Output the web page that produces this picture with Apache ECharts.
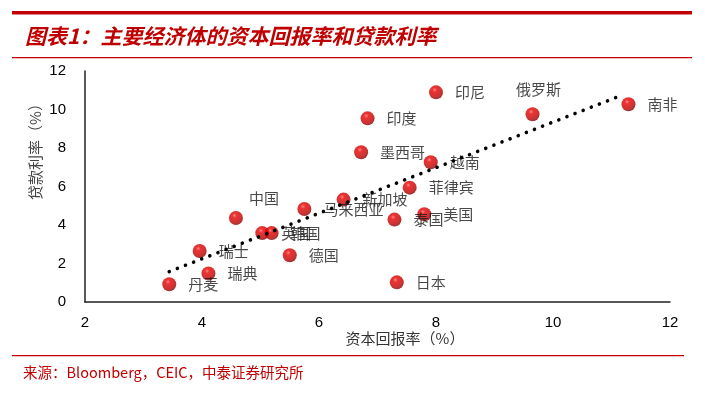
<!DOCTYPE html>
<html>
<head>
<meta charset="utf-8">
<script src="https://cdn.jsdelivr.net/npm/echarts@6/dist/echarts.min.js"></script>
<style>
html,body{margin:0;padding:0;background:#fff;}
#chart{width:705px;height:398px;}
</style>
</head>
<body>
<div id="chart"></div>
<script>
// ---- data ----
const countries = ['丹麦','瑞典','瑞士','中国','英国','韩国','德国','马来西亚','新加坡','墨西哥','印度','印尼','泰国','美国','菲律宾','越南','日本','俄罗斯','南非'];
const capitalReturn = [3.44,4.11,3.96,4.58,5.03,5.19,5.50,5.75,6.42,6.72,6.83,8.00,7.29,7.80,7.55,7.91,7.33,9.65,11.29];
const loanRate      = [0.92,1.48,2.65,4.36,3.58,3.58,2.43,4.83,5.32,7.78,9.54,10.89,4.28,4.56,5.94,7.26,1.02,9.75,10.27];
const trendX = [3.44, 11.16];
const trendY = [1.58, 10.72];
const xTicks = [2, 12, 2];   // min, max, interval
const yTicks = [0, 12, 2];

const titleText = '图表1：主要经济体的资本回报率和贷款利率';
const sourceText = '来源：Bloomberg，CEIC，中泰证券研究所';
const xName = '资本回报率（%）';
const yName = '贷款利率（%）';

// ---- styling ----
const RED = '#C00000';
const CJK = '"Noto Sans CJK SC", "Noto Sans", sans-serif';
const specialLabel = {
  '中国':   {position: 'inside', offset: [28, -20]},
  '俄罗斯': {position: 'inside', offset: [6, -25]}
};
const ball = new echarts.graphic.RadialGradient(0.4, 0.32, 0.72, [
  {offset: 0, color: '#ff6a6a'},
  {offset: 0.22, color: '#e80000'},
  {offset: 0.7, color: '#c00000'},
  {offset: 1, color: '#7a0000'}
]);

const scatterData = countries.map((n, i) => {
  const item = {name: n, value: [capitalReturn[i], loanRate[i]]};
  if (specialLabel[n]) item.label = specialLabel[n];
  return item;
});

const chart = echarts.init(document.getElementById('chart'), null, {renderer: 'canvas'});
chart.setOption({
  backgroundColor: '#fff',
  animation: false,
  grid: {left: 85, right: 35, top: 71, bottom: 96},
  xAxis: {
    type: 'value', min: xTicks[0], max: xTicks[1], interval: xTicks[2],
    axisLine: {show: true, lineStyle: {color: '#222', width: 1.5}},
    axisTick: {show: false},
    splitLine: {show: false},
    axisLabel: {color: '#000', fontSize: 15, margin: 13, fontFamily: '"Liberation Sans", Arial, sans-serif'}
  },
  yAxis: {
    type: 'value', min: yTicks[0], max: yTicks[1], interval: yTicks[2],
    axisLine: {show: true, lineStyle: {color: '#222', width: 1.5}},
    axisTick: {show: false},
    splitLine: {show: false},
    axisLabel: {color: '#000', fontSize: 15, margin: 19, fontFamily: '"Liberation Sans", Arial, sans-serif'}
  },
  series: [
    {
      type: 'scatter',
      symbol: 'circle',
      symbolSize: 14,
      itemStyle: {color: ball},
      label: {
        show: true,
        position: 'right',
        distance: 12,
        formatter: '{b}',
        color: '#1a1a1a',
        fontSize: 15,
        fontFamily: CJK
      },
      data: scatterData,
      z: 2
    },
    {
      type: 'line',
      data: trendX.map((x, i) => [x, trendY[i]]),
      symbol: 'none',
      silent: true,
      lineStyle: {color: '#000', width: 3.6, type: [0.01, 8.7], cap: 'round'},
      z: 3
    }
  ],
  graphic: [
    {type: 'rect', shape: {x: 12, y: 11, width: 680, height: 3.5}, style: {fill: RED}},
    {type: 'text', left: 25, top: 26,
      style: {text: titleText, fill: RED, font: 'italic bold 21px ' + CJK}},
    {type: 'rect', shape: {x: 12, y: 57, width: 680, height: 1.3}, style: {fill: RED}},
    {type: 'text', x: 405, y: 338,
      style: {text: xName, fill: '#333', font: '15px ' + CJK, align: 'center', verticalAlign: 'middle'}},
    {type: 'text', x: 35, y: 148, rotation: Math.PI / 2,
      style: {text: yName, fill: '#444', font: '15px ' + CJK, align: 'center', verticalAlign: 'middle'}},
    {type: 'rect', shape: {x: 12, y: 355, width: 672, height: 1.2}, style: {fill: RED}},
    {type: 'text', x: 23, y: 372,
      style: {text: sourceText, fill: RED, font: '14.5px ' + CJK, verticalAlign: 'middle'}}
  ]
});
</script>
</body>
</html>
